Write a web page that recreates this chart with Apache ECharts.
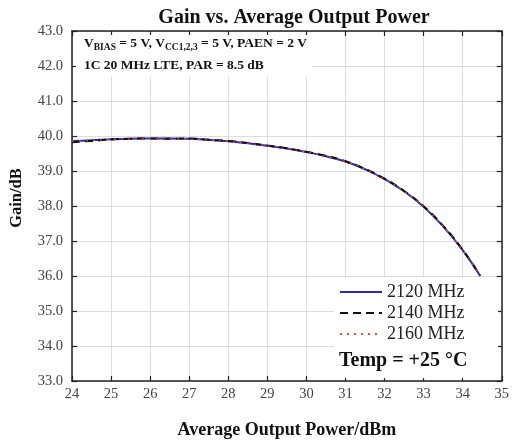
<!DOCTYPE html>
<html>
<head>
<meta charset="utf-8">
<script src="https://cdn.jsdelivr.net/npm/echarts@6/dist/echarts.min.js"></script>
<style>
  html, body { margin: 0; padding: 0; background: #fff; }
  #main { width: 512px; height: 444px; }
</style>
</head>
<body>
<div id="main"></div>
<script>
// output power (dBm)
const power = [24, 24.5, 25, 25.5, 26, 26.5, 27, 27.5, 28, 28.5, 29, 29.5, 30, 30.5, 31, 31.5, 32, 32.5, 33, 33.5, 34, 34.45];
// gain (dB) per frequency
const gain2120 = [39.86, 39.88, 39.91, 39.92, 39.93, 39.93, 39.92, 39.89, 39.85, 39.79, 39.72, 39.64, 39.54, 39.42, 39.27, 39.05, 38.77, 38.42, 37.98, 37.42, 36.74, 36.0];
const gain2140 = [39.82, 39.86, 39.90, 39.92, 39.93, 39.92, 39.93, 39.89, 39.86, 39.80, 39.73, 39.65, 39.55, 39.43, 39.28, 39.06, 38.78, 38.43, 37.99, 37.43, 36.75, 36.0];
const gain2160 = [39.85, 39.87, 39.90, 39.91, 39.92, 39.92, 39.91, 39.88, 39.84, 39.79, 39.72, 39.64, 39.54, 39.42, 39.27, 39.05, 38.77, 38.42, 37.98, 37.42, 36.74, 36.0];
const seriesNames = ['2120 MHz', '2140 MHz', '2160 MHz'];

const chart = echarts.init(document.getElementById('main'));
const serif = 'Liberation Serif';

function pairs(ys) {
  return power.map((x, i) => [x, ys[i]]);
}

const tickIn = { inside: true, length: 5, lineStyle: { color: '#222', width: 1.2 } };
const axLine = { lineStyle: { color: '#222', width: 1.5 } };

const option = {
  animation: false,
  title: {
    text: 'Gain vs. Average Output Power',
    left: 289, top: 3, textAlign: 'center',
    textStyle: { fontFamily: serif, fontSize: 20, fontWeight: 'bold', color: '#111' }
  },
  grid: { left: 72, right: 10, top: 31, bottom: 63 },
  xAxis: [{
    type: 'value', min: 24, max: 35, interval: 1,
    name: 'Average Output Power/dBm', nameLocation: 'middle', nameGap: 40,
    nameTextStyle: { fontFamily: serif, fontSize: 18, fontWeight: 'bold', color: '#111' },
    axisLine: axLine, axisTick: tickIn,
    axisLabel: { fontFamily: serif, fontSize: 14.5, color: '#444', margin: 6 },
    splitLine: { show: true, lineStyle: { color: '#ddd' } }
  }, {
    type: 'value', position: 'top', min: 24, max: 35, interval: 1,
    axisLine: axLine, axisTick: tickIn, axisLabel: { show: false }, splitLine: { show: false }
  }],
  yAxis: [{
    type: 'value', min: 33, max: 43, interval: 1,
    axisLine: axLine, axisTick: tickIn,
    axisLabel: { fontFamily: serif, fontSize: 14.5, color: '#444', margin: 9, formatter: v => v.toFixed(1) },
    splitLine: { show: true, lineStyle: { color: '#ddd' } }
  }, {
    type: 'value', position: 'right', min: 33, max: 43, interval: 1,
    axisLine: axLine, axisTick: tickIn, axisLabel: { show: false }, splitLine: { show: false }
  }],
  legend: {
    orient: 'vertical', left: 334, top: 278, itemGap: 3,
    itemWidth: 42, itemHeight: 10,
    itemStyle: { opacity: 0 },
    textStyle: { fontFamily: serif, fontSize: 18, color: '#222' },
    data: seriesNames
  },
  graphic: [
    { type: 'rect', z: 1, shape: { x: 76, y: 35, width: 237, height: 42 }, style: { fill: '#fff' } },
    { type: 'rect', z: 1, shape: { x: 334, y: 278, width: 164, height: 100 }, style: { fill: '#fff' } },
    {
      type: 'text', z: 5, left: 84, top: 37,
      style: {
        text: '{b|V}{s|BIAS}{b| = 5 V, V}{s|CC1,2,3}{b| = 5 V, PAEN = 2 V}',
        rich: {
          b: { fontFamily: serif, fontSize: 13.5, fontWeight: 'bold', fill: '#111' },
          s: { fontFamily: serif, fontSize: 9.5, fontWeight: 'bold', fill: '#111', padding: [7, 0, 0, 0] }
        }
      }
    },
    {
      type: 'text', z: 5, left: 84, top: 59,
      style: { text: '1C 20 MHz LTE, PAR = 8.5 dB', fontFamily: serif, fontSize: 13.5, fontWeight: 'bold', fill: '#111' }
    },
    {
      type: 'text', z: 5, left: 339, top: 351,
      style: { text: 'Temp = +25 °C', fontFamily: serif, fontSize: 20, fontWeight: 'bold', fill: '#111' }
    },
    {
      type: 'text', z: 5, x: 17, y: 198, rotation: Math.PI / 2,
      style: { text: 'Gain/dB', fontFamily: serif, fontSize: 16.5, fontWeight: 'bold', fill: '#111', align: 'center', verticalAlign: 'middle' }
    }
  ],
  series: [
    {
      name: seriesNames[0], type: 'line', data: pairs(gain2120), smooth: true,
      showSymbol: false, symbol: 'none', z: 3,
      lineStyle: { color: '#2b2ca8', width: 2 }, itemStyle: { color: '#2b2ca8' }
    },
    {
      name: seriesNames[1], type: 'line', data: pairs(gain2140), smooth: true,
      showSymbol: false, symbol: 'none', z: 4,
      lineStyle: { color: '#111', width: 2, type: [8, 5] }, itemStyle: { color: '#111' }
    },
    {
      name: seriesNames[2], type: 'line', data: pairs(gain2160), smooth: true,
      showSymbol: false, symbol: 'none', z: 5,
      lineStyle: { color: '#d9534f', width: 1.2, type: [2, 5] }, itemStyle: { color: '#d9534f' }
    }
  ]
};

chart.setOption(option);
</script>
</body>
</html>
